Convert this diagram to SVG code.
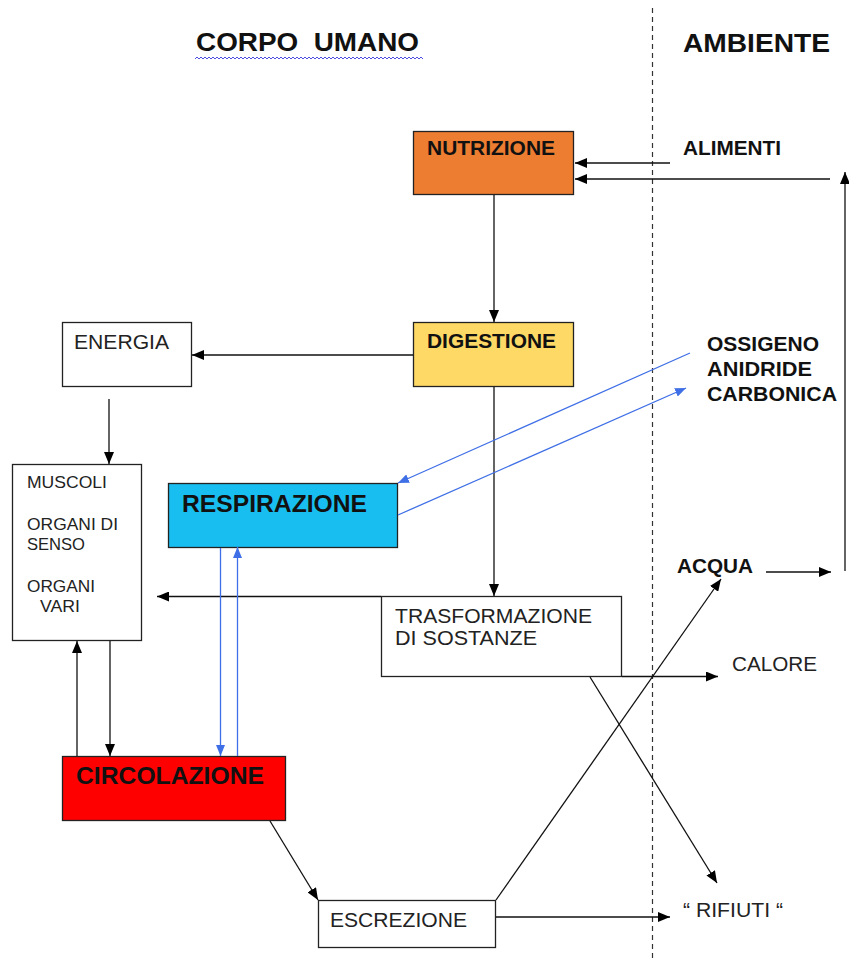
<svg xmlns="http://www.w3.org/2000/svg" width="849" height="961" viewBox="0 0 849 961">
<defs>
<marker id="ah" markerUnits="userSpaceOnUse" markerWidth="12" markerHeight="10" refX="12" refY="5" orient="auto"><path d="M0,0 L12,5 L0,10 z" fill="#000"/></marker>
<marker id="ahb" markerUnits="userSpaceOnUse" markerWidth="11" markerHeight="9" refX="11" refY="4.5" orient="auto"><path d="M0,0 L11,4.5 L0,9 z" fill="#3f6fe6"/></marker>
</defs>
<style>
.box{stroke:#222;stroke-width:1.3}
.b{font-family:"Liberation Sans",Arial,sans-serif;font-weight:bold;fill:#111}
.r{font-family:"Liberation Sans",Arial,sans-serif;fill:#222}
.c{stroke:#111;stroke-width:1.3;fill:none;marker-end:url(#ah)}
.cb{stroke:#3f6fe6;stroke-width:1.3;fill:none;marker-end:url(#ahb)}
</style>
<rect width="849" height="961" fill="#fff"/>

<g id="titles">
<text class="b" x="196" y="51" font-size="26" textLength="223" lengthAdjust="spacingAndGlyphs">CORPO&#160;&#160;UMANO</text>
<path d="M195,59 l2,-2 l2,2 l2,-2 l2,2 l2,-2 l2,2 l2,-2 l2,2 l2,-2 l2,2 l2,-2 l2,2 l2,-2 l2,2 l2,-2 l2,2 l2,-2 l2,2 l2,-2 l2,2
 l2,-2 l2,2 l2,-2 l2,2 l2,-2 l2,2 l2,-2 l2,2 l2,-2 l2,2 l2,-2 l2,2 l2,-2 l2,2 l2,-2 l2,2 l2,-2 l2,2 l2,-2 l2,2
 l2,-2 l2,2 l2,-2 l2,2 l2,-2 l2,2 l2,-2 l2,2 l2,-2 l2,2 l2,-2 l2,2 l2,-2 l2,2 l2,-2 l2,2 l2,-2 l2,2 l2,-2 l2,2
 l2,-2 l2,2 l2,-2 l2,2 l2,-2 l2,2 l2,-2 l2,2 l2,-2 l2,2 l2,-2 l2,2 l2,-2 l2,2 l2,-2 l2,2 l2,-2 l2,2 l2,-2 l2,2
 l2,-2 l2,2 l2,-2 l2,2 l2,-2 l2,2 l2,-2 l2,2 l2,-2 l2,2 l2,-2 l2,2 l2,-2 l2,2 l2,-2 l2,2 l2,-2 l2,2 l2,-2 l2,2
 l2,-2 l2,2 l2,-2 l2,2 l2,-2 l2,2 l2,-2 l2,2 l2,-2 l2,2 l2,-2 l2,2 l2,-2 l2,2" fill="none" stroke="#3a3ae0" stroke-width="0.9"/>
<text class="b" x="683" y="52" font-size="26" textLength="147" lengthAdjust="spacingAndGlyphs">AMBIENTE</text>
<line x1="652.5" y1="8" x2="652.5" y2="961" stroke="#333" stroke-width="1.2" stroke-dasharray="5,4"/>
</g>

<g id="nutrizione">
<rect class="box" x="413.5" y="131.5" width="160" height="63" fill="#ED7D31"/>
<text class="b" x="427" y="155" font-size="20" textLength="128" lengthAdjust="spacingAndGlyphs">NUTRIZIONE</text>
</g>
<g id="digestione">
<rect class="box" x="413.5" y="322.5" width="160" height="64" fill="#FFD966"/>
<text class="b" x="427" y="348" font-size="20" textLength="129" lengthAdjust="spacingAndGlyphs">DIGESTIONE</text>
</g>
<g id="energia">
<rect class="box" x="62.5" y="322.5" width="129" height="64" fill="#fff"/>
<text class="r" x="74" y="349" font-size="20" textLength="95" lengthAdjust="spacingAndGlyphs">ENERGIA</text>
</g>
<g id="organi">
<rect class="box" x="12.5" y="464.5" width="129" height="176" fill="#fff"/>
<text class="r" x="27" y="488" font-size="17" textLength="80" lengthAdjust="spacingAndGlyphs">MUSCOLI</text>
<text class="r" x="27" y="530" font-size="17" textLength="91" lengthAdjust="spacingAndGlyphs">ORGANI DI</text>
<text class="r" x="27" y="550" font-size="17" textLength="58" lengthAdjust="spacingAndGlyphs">SENSO</text>
<text class="r" x="27" y="592" font-size="17" textLength="68" lengthAdjust="spacingAndGlyphs">ORGANI</text>
<text class="r" x="40" y="612" font-size="17" textLength="40" lengthAdjust="spacingAndGlyphs">VARI</text>
</g>
<g id="respirazione">
<rect class="box" x="168.5" y="483.5" width="229" height="64" fill="#19BEF0"/>
<text class="b" x="182" y="512" font-size="24" textLength="185" lengthAdjust="spacingAndGlyphs">RESPIRAZIONE</text>
</g>
<g id="trasformazione">
<rect class="box" x="381.5" y="596.5" width="240" height="80" fill="#fff"/>
<text class="r" x="395" y="623" font-size="20" textLength="197" lengthAdjust="spacingAndGlyphs">TRASFORMAZIONE</text>
<text class="r" x="395" y="645" font-size="20" textLength="142" lengthAdjust="spacingAndGlyphs">DI SOSTANZE</text>
</g>
<g id="circolazione">
<rect class="box" x="62.5" y="756.5" width="223" height="64" fill="#FF0000"/>
<text class="b" x="76" y="784" font-size="24" textLength="188" lengthAdjust="spacingAndGlyphs">CIRCOLAZIONE</text>
</g>
<g id="escrezione">
<rect class="box" x="318.5" y="900.5" width="177" height="47" fill="#fff"/>
<text class="r" x="330" y="927" font-size="20" textLength="137" lengthAdjust="spacingAndGlyphs">ESCREZIONE</text>
</g>
<g id="ambiente-labels">
<text class="b" x="683" y="155" font-size="20" textLength="98" lengthAdjust="spacingAndGlyphs">ALIMENTI</text>
<text class="b" x="707" y="351" font-size="20" textLength="112" lengthAdjust="spacingAndGlyphs">OSSIGENO</text>
<text class="b" x="707" y="376" font-size="20" textLength="105" lengthAdjust="spacingAndGlyphs">ANIDRIDE</text>
<text class="b" x="707" y="401" font-size="20" textLength="130" lengthAdjust="spacingAndGlyphs">CARBONICA</text>
<text class="b" x="677" y="573" font-size="20" textLength="76" lengthAdjust="spacingAndGlyphs">ACQUA</text>
<text class="r" x="732" y="671" font-size="20" textLength="85" lengthAdjust="spacingAndGlyphs">CALORE</text>
<text class="r" x="683" y="917" font-size="20" textLength="100" lengthAdjust="spacingAndGlyphs">“ RIFIUTI “</text>
</g>

<g id="connectors">
<line class="c" x1="670" y1="163" x2="575" y2="163"/>
<line class="c" x1="830" y1="179" x2="575" y2="179"/>
<line class="c" x1="845" y1="571" x2="845" y2="172"/>
<line class="c" x1="766" y1="572" x2="831" y2="572"/>
<line class="c" x1="494" y1="195" x2="494" y2="322"/>
<line class="c" x1="413" y1="355" x2="192" y2="355"/>
<line class="c" x1="109" y1="399" x2="109" y2="464"/>
<line class="c" x1="494" y1="387" x2="494" y2="596"/>
<line class="c" x1="381" y1="596.5" x2="157" y2="596.5"/>
<line class="c" x1="622" y1="676.5" x2="718" y2="676.5"/>
<line class="c" x1="590" y1="677" x2="717" y2="883"/>
<line class="c" x1="496" y1="900" x2="721" y2="579"/>
<line class="c" x1="496" y1="917" x2="670" y2="917"/>
<line class="c" x1="270" y1="821" x2="318" y2="900"/>
<line class="c" x1="77" y1="756" x2="77" y2="641"/>
<line class="c" x1="110" y1="641" x2="110" y2="756"/>
<line class="cb" x1="690" y1="353" x2="398" y2="483"/>
<line class="cb" x1="398" y1="515" x2="686" y2="388"/>
<line class="cb" x1="220.5" y1="548" x2="220.5" y2="756"/>
<line class="cb" x1="237.5" y1="756" x2="237.5" y2="547"/>
</g>
</svg>
